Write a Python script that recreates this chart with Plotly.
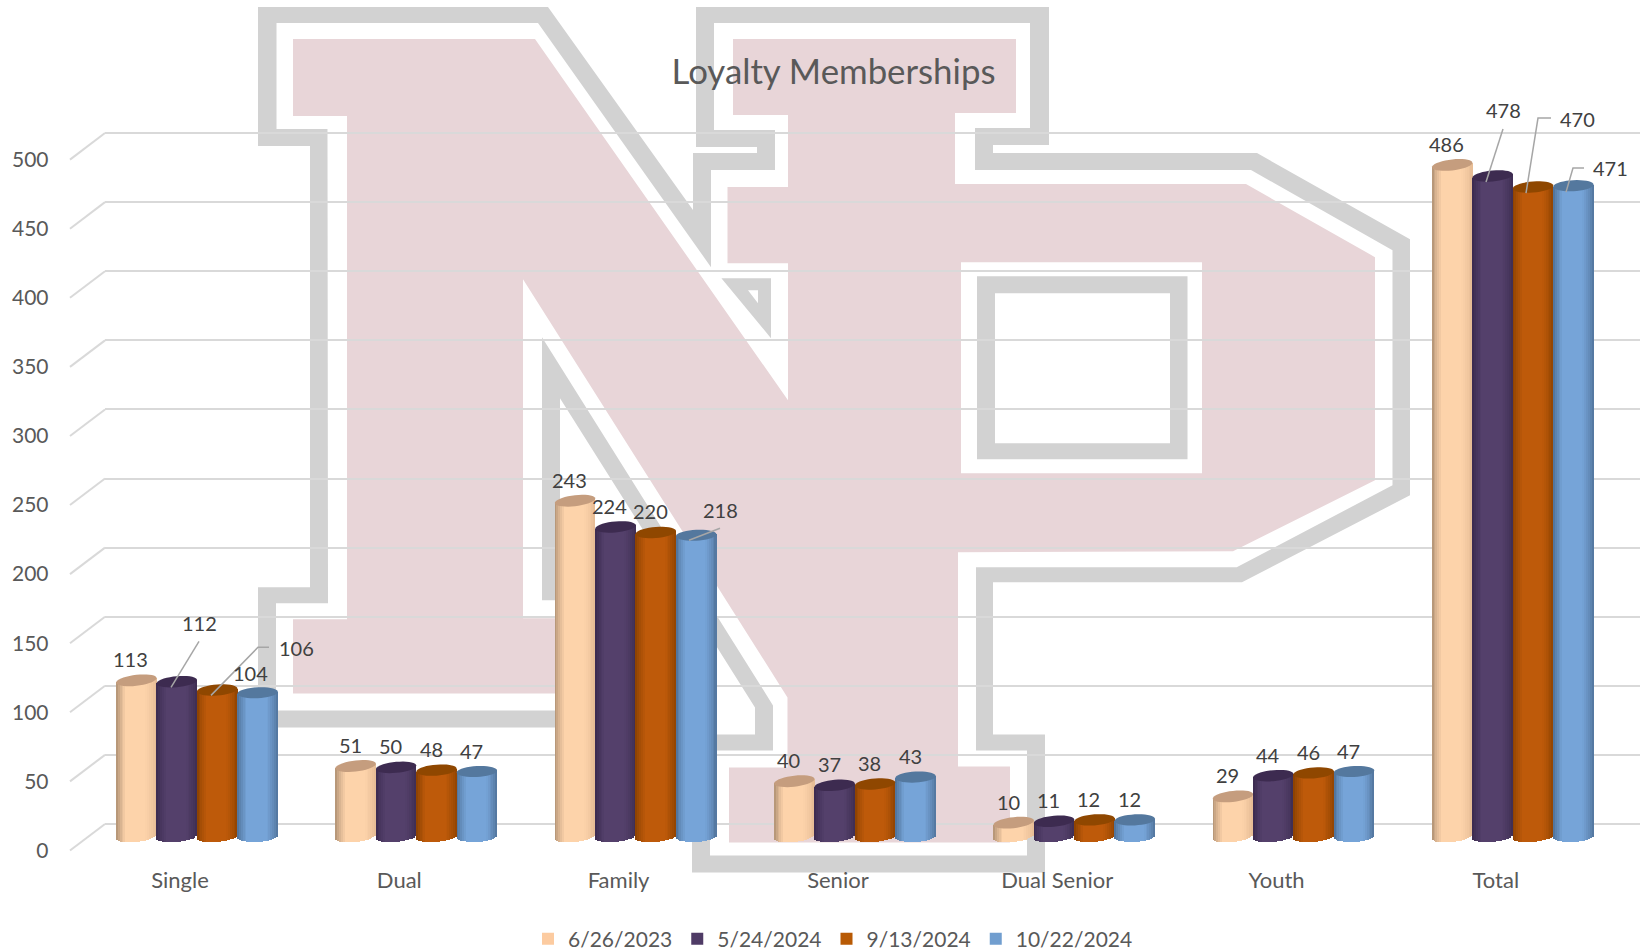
import math
import plotly.graph_objects as go

categories = ["Single", "Dual", "Family", "Senior", "Dual Senior", "Youth", "Total"]
series_names = ["6/26/2023", "5/24/2024", "9/13/2024", "10/22/2024"]
values_2023_06 = [113, 51, 243, 40, 10, 29, 486]
values_2024_05 = [112, 50, 224, 37, 11, 44, 478]
values_2024_09 = [106, 48, 220, 38, 12, 46, 470]
values_2024_10 = [104, 47, 218, 43, 12, 47, 471]
all_values = [values_2023_06, values_2024_05, values_2024_09, values_2024_10]
y_ticks = [0, 50, 100, 150, 200, 250, 300, 350, 400, 450, 500]

W, H = 1650, 951
RESERVED = 33         # height the legend reserves below the plot area
PH = H - RESERVED     # plot-area height
FONT = "Lato"
UNIT = 1.381          # pixels per value unit
BASE_Y = 836          # cylinder base centre
BACK_Y = 823.5        # back wall zero
FRONT_Y = 850         # front edge zero
GROUP_X = 197.0       # centre of the first cylinder group
LABEL_X = 180.0       # centre of the first category label
STEP = 219.3          # category spacing
CYL_W = 40.4          # cylinder width
HALF_H = 5.5          # ellipse half height
TILT = [4.5, 3.5, 3.0, 2.0]
STRIPS = 22


def X(px):
    return px / W


def Y(py):
    return 1 - py / PH


def poly(points):
    return "M" + " L".join(f"{X(a):.5f},{Y(b):.5f}" for a, b in points) + " Z"


def mix(c1, c2, f):
    return "rgb(%d,%d,%d)" % tuple(round(a + (b - a) * f) for a, b in zip(c1, c2))


def shade(dark_l, base, dark_r, t):
    fl = min(1, (t + 1) / 0.5) ** 0.7
    fr = min(1, (1 - t) / 0.55) ** 0.7
    if t < 0:
        return mix(dark_l, base, fl)
    return mix(dark_r, base, fr)


body_left = [(168, 138, 110), (56, 40, 76), (132, 62, 0), (74, 108, 146)]
body_mid = [(253, 211, 170), (84, 64, 107), (190, 90, 10), (118, 164, 216)]
body_right = [(226, 184, 146), (60, 44, 80), (140, 66, 0), (78, 112, 150)]
cap_color = ["#C59D7E", "#3D2B50", "#8F4700", "#54789E"]
legend_color = ["#FCCBA0", "#4F3B66", "#B85A05", "#719ECF"]

# ---------------- school logo behind the chart (pixel outline) ----------------
pink = [(293, 39), (535, 39), (788, 400), (788, 263), (727.5, 263), (727.5, 187), (788, 187), (788, 115),
        (733, 115), (733, 39), (1016, 39), (1016, 113), (955, 113), (955, 184), (1246, 184), (1375, 257),
        (1375, 480), (1233, 551), (958, 552), (958, 766), (1010, 766), (1010, 842), (729, 842), (729, 767),
        (787.5, 767), (787.5, 697), (523, 279), (523, 618), (590, 618), (590, 693), (293, 693), (293, 619),
        (347, 619), (347, 116), (293, 116)]
pink_hole = [(961, 262), (1202, 262), (1202, 473), (961, 473)]
band_out = [(258, 7), (548, 7), (693, 210), (693, 153), (757, 153), (757, 147), (696, 147), (696, 7),
            (1049, 7), (1049, 145), (993, 145), (993, 153), (1257, 153), (1410, 239), (1410, 495),
            (1242, 582), (993, 582), (993, 734), (1045, 734), (1045, 872), (692, 872), (692, 734),
            (755, 734), (755, 707), (560, 398), (560, 583), (623, 583), (623, 727), (258, 727),
            (258, 587), (310, 587), (310, 146), (258, 146)]
band_in = [(276.5, 23), (538, 23), (711, 267), (711, 170), (775, 170), (775, 130), (714, 130), (714, 23),
           (1030, 23), (1030, 128), (975, 128), (975, 170), (1251, 170), (1392.5, 250), (1392.5, 485),
           (1236.7, 567), (976, 567), (976, 750), (1027, 750), (1027, 855), (710, 855), (710, 750),
           (773, 750), (773, 705), (542, 337), (542, 600), (605, 600), (605, 710), (276, 710), (276, 603),
           (328, 603), (327.5, 129), (276.5, 129)]
ring_out = [(977, 276), (1187.5, 276), (1187.5, 459), (977, 459)]
ring_in = [(995, 293), (1170, 293), (1170, 443), (995, 443)]
tri_out = [(721.4, 278), (771, 278), (771, 338)]
tri_in = [(748, 290), (758, 290), (758, 303)]

GRAY = "#D2D2D2"
PINK = "#E8D5D8"
shapes = []
for path, col in [(poly(pink) + poly(pink_hole), PINK),
                  (poly(band_out) + poly(band_in), GRAY),
                  (poly(ring_out) + poly(ring_in), GRAY),
                  (poly(tri_out) + poly(tri_in), GRAY)]:
    shapes.append(dict(type="path", path=path, xref="paper", yref="paper", fillcolor=col,
                       line=dict(width=0), layer="below", fillrule="evenodd"))

# floor diagonals joining the front labels to the back wall
for v in y_ticks:
    shapes.append(dict(type="line", xref="paper", yref="paper", layer="below",
                       x0=X(70), y0=Y(FRONT_Y - UNIT * v), x1=X(105), y1=Y(BACK_Y - UNIT * v),
                       line=dict(color="#D9D9D9", width=2)))

fig = go.Figure()

# back wall grid
fig.add_trace(go.Scatter(x=[0], y=[0], mode="none", xaxis="x", yaxis="y", showlegend=False, hoverinfo="skip"))
# front scale and category labels
fig.add_trace(go.Scatter(x=[0], y=[0], mode="none", xaxis="x2", yaxis="y2", showlegend=False, hoverinfo="skip"))

# cylinders
w_cat = CYL_W / STEP
unit_h = HALF_H / UNIT
for j, vals in enumerate(all_values):
    xs, ys, bases, widths, cols = [], [], [], [], []
    tilt_u = TILT[j] / 2 / UNIT
    for i, v in enumerate(vals):
        cx = i + (j - 1.5) * w_cat
        for s in range(STRIPS):
            t = -1 + (2 * s + 1) / STRIPS
            b = tilt_u * t - unit_h * math.sqrt(max(0, 1 - t * t))
            xs.append(cx + t * w_cat / 2)
            bases.append(b)
            ys.append(v + tilt_u * t - b)
            widths.append(w_cat / STRIPS * 1.2)
            cols.append(shade(body_left[j], body_mid[j], body_right[j], t))
    fig.add_trace(go.Bar(x=xs, y=ys, base=bases, width=widths, xaxis="x3", yaxis="y3",
                         marker=dict(color=cols, line=dict(width=0)), showlegend=False,
                         name=series_names[j], hoverinfo="skip"))
    # elliptical caps
    for i, v in enumerate(vals):
        cx = i + (j - 1.5) * w_cat
        pts = []
        for k in range(36):
            th = 2 * math.pi * k / 36
            pts.append((cx + math.cos(th) * w_cat / 2,
                        v + tilt_u * math.cos(th) + unit_h * math.sin(th)))
        path = "M" + " L".join(f"{a:.5f},{b:.3f}" for a, b in pts) + " Z"
        shapes.append(dict(type="path", path=path, xref="x3", yref="y3", fillcolor=cap_color[j],
                           line=dict(width=0), layer="above"))

for j, name in enumerate(series_names):
    fig.add_trace(go.Bar(x=[None], y=[None], name=name, xaxis="x3", yaxis="y3",
                         marker=dict(color=legend_color[j], line=dict(width=0))))

# data labels
overrides = {(0, 1): (199, 623), (0, 2): (296, 648), (0, 3): (250, 673), (2, 3): (720, 510),
             (6, 1): (1503, 110), (6, 2): (1577, 119), (6, 3): (1610, 168)}
annotations = []
for j, vals in enumerate(all_values):
    for i, v in enumerate(vals):
        if (i, j) in overrides:
            a, b = overrides[(i, j)]
            annotations.append(dict(x=X(a), y=Y(b), xref="paper", yref="paper", text=str(v),
                                    xanchor="center", yanchor="middle",
                                    showarrow=False, font=dict(family=FONT, size=20, color="#404040")))
        else:
            annotations.append(dict(x=i + (j - 1.5) * w_cat, y=v, xref="x3", yref="y3", text=str(v),
                                    xshift=-5.5, yshift=21, xanchor="center", yanchor="middle", showarrow=False,
                                    font=dict(family=FONT, size=20, color="#404040")))

# leader lines
leaders = [[(199, 641), (171, 687)],
           [(211, 695), (258, 647), (269, 647)],
           [(689, 540), (720, 528)],
           [(1503, 129), (1486, 182)],
           [(1526, 193), (1538, 118), (1551, 118)],
           [(1566, 192), (1573, 168), (1584, 168)]]
for pts in leaders:
    path = "M" + " L".join(f"{X(a):.5f},{Y(b):.5f}" for a, b in pts)
    shapes.append(dict(type="path", path=path, xref="paper", yref="paper",
                       line=dict(color="#A6A6A6", width=1.5), layer="above"))

fig.update_layout(
    width=W, height=H, margin=dict(l=0, r=0, t=0, b=0, pad=0),
    paper_bgcolor="white", plot_bgcolor="rgba(0,0,0,0)", barmode="overlay", bargap=0,
    font=dict(family=FONT, size=20, color="#595959"),
    title=dict(text="Loyalty Memberships", x=833.5 / W, y=1 - 71.5 / H, xanchor="center", yanchor="middle",
               xref="paper", yref="container", pad=dict(t=0, b=0, l=0, r=0),
               font=dict(family=FONT, size=34.8, color="#595959")),
    showlegend=True,
    legend=dict(orientation="h", x=833 / W, xanchor="center", y=1 - 939 / H, yanchor="middle",
                xref="container", yref="container",
                font=dict(family=FONT, size=21, color="#595959"), bgcolor="rgba(0,0,0,0)",
                traceorder="normal"),
    xaxis=dict(domain=[X(105), X(1640)], range=[0, 1], visible=False, fixedrange=True),
    yaxis=dict(domain=[0, 1], range=[(BACK_Y - PH) / UNIT, BACK_Y / UNIT], anchor="x",
               tickvals=y_ticks, showgrid=True, gridcolor="#D9D9D9", gridwidth=2, zeroline=False,
               showticklabels=False, ticks="", showline=False, fixedrange=True),
    xaxis2=dict(domain=[0, 1], range=[-LABEL_X / STEP, (W - LABEL_X) / STEP], anchor="free",
                position=Y(865), tickvals=list(range(len(categories))), ticktext=categories,
                showgrid=False, zeroline=False, showline=False, ticks="",
                tickfont=dict(family=FONT, size=22, color="#595959"), fixedrange=True),
    yaxis2=dict(domain=[0, 1], range=[(FRONT_Y - PH) / UNIT, FRONT_Y / UNIT], anchor="free",
                position=X(48.5), tickvals=y_ticks, showgrid=False, zeroline=False, showline=False, ticks="",
                tickfont=dict(family=FONT, size=21, color="#595959"), fixedrange=True),
    xaxis3=dict(domain=[0, 1], range=[-GROUP_X / STEP, (W - GROUP_X) / STEP], visible=False,
                anchor="y3", fixedrange=True),
    yaxis3=dict(domain=[0, 1], range=[(BASE_Y - PH) / UNIT, BASE_Y / UNIT], visible=False,
                anchor="x3", fixedrange=True),
    shapes=shapes, annotations=annotations,
)
fig.write_html("out.html", config=dict(displayModeBar=False),
               post_script="document.body.style.margin='0';document.documentElement.style.overflow='hidden';")
